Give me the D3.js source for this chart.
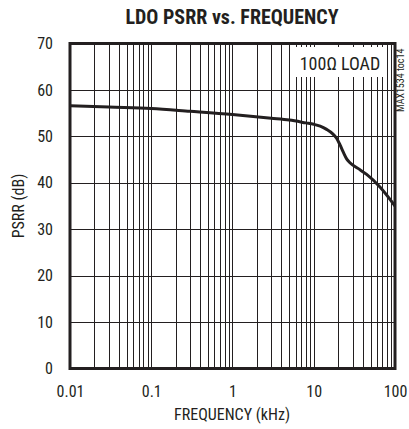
<!DOCTYPE html>
<html>
<head>
<meta charset="utf-8">
<script src="https://cdn.jsdelivr.net/npm/d3@7"></script>
<style>
  body { margin: 0; background: #fff; }
  svg { display: block; }
  text { font-family: "Liberation Sans Narrow", "Arial Narrow", "Roboto Condensed", "Liberation Sans", Arial, sans-serif; fill: #231f20; }
</style>
</head>
<body>
<svg id="chart" width="409" height="429"></svg>
<script>
// ---- data ----
const freqKHz = [0.01, 0.03, 0.1, 0.3, 1, 3, 5, 8, 10, 12, 14.4, 17, 19.1, 21, 23.1, 25.5, 27.9, 35, 44.8, 65.3, 100];
const psrrDB  = [56.6, 56.3, 56.0, 55.4, 54.7, 53.9, 53.5, 52.9, 52.6, 52.2, 51.5, 50.6, 49.6, 48.2, 46.6, 45.1, 44.3, 43.1, 41.8, 39.1, 35.0];
const xTickValues = [0.01, 0.1, 1, 10, 100];
const xTickLabels = ["0.01", "0.1", "1", "10", "100"];
const yTickValues = [0, 10, 20, 30, 40, 50, 60, 70];
const titleText = "LDO PSRR vs. FREQUENCY";
const xTitle = "FREQUENCY (kHz)";
const yTitle = "PSRR (dB)";
const legendText = "100\u03A9 LOAD";
const sideNote = "MAX1534 toc14";

// ---- layout ----
const L = 70, R = 395, T = 43.5, B = 368.5;
const ink = "#231f20";
const svg = d3.select("#chart");

const x = d3.scaleLog().domain([0.01, 100]).range([L, R]);
const y = d3.scaleLinear().domain([0, 70]).range([B, T]);

// minor + major vertical grid
const vgrid = [];
for (let d = -2; d < 2; d++) {
  for (let m = 1; m <= 9; m++) vgrid.push(m * Math.pow(10, d));
}
vgrid.push(100);

svg.append("g").selectAll("line").data(vgrid).join("line")
  .attr("x1", d => Math.round(x(d)) + 0.5).attr("x2", d => Math.round(x(d)) + 0.5)
  .attr("y1", T).attr("y2", B)
  .attr("stroke", ink).attr("stroke-width", 1);

svg.append("g").selectAll("line").data(yTickValues).join("line")
  .attr("x1", L).attr("x2", R)
  .attr("y1", d => Math.round(y(d)) + 0.5).attr("y2", d => Math.round(y(d)) + 0.5)
  .attr("stroke", ink).attr("stroke-width", 1);

// legend box (covers gridlines)
svg.append("rect").attr("x", 294).attr("y", 47).attr("width", 91).attr("height", 30).attr("fill", "#fff");
svg.append("text").attr("x", 340).attr("y", 69.5).attr("text-anchor", "middle")
  .attr("font-size", 18).text(legendText);

// curve
const line = d3.line().x((d, i) => x(freqKHz[i])).y(d => y(d)).curve(d3.curveMonotoneX);
svg.append("path").datum(psrrDB).attr("d", line)
  .attr("fill", "none").attr("stroke", ink).attr("stroke-width", 3).attr("stroke-linejoin", "round");

// frame
svg.append("rect").attr("x", L).attr("y", T).attr("width", R - L).attr("height", B - T)
  .attr("fill", "none").attr("stroke", ink).attr("stroke-width", 3);

// axes labels via d3 axis
const xAxis = d3.axisBottom(x).tickValues(xTickValues).tickFormat((d, i) => xTickLabels[i]).tickSize(0).tickPadding(17);
const gx = svg.append("g").attr("transform", `translate(0,${B})`).call(xAxis);
gx.select(".domain").remove();
gx.selectAll("text").attr("font-size", 16).attr("fill", ink).attr("font-family", null);

const yAxis = d3.axisLeft(y).tickValues(yTickValues).tickFormat(d3.format("d")).tickSize(0).tickPadding(17);
const gy = svg.append("g").attr("transform", `translate(${L},0)`).call(yAxis);
gy.select(".domain").remove();
gy.selectAll("text").attr("font-size", 16).attr("fill", ink).attr("font-family", null);

// titles
svg.append("text").attr("x", 232).attr("y", 24).attr("text-anchor", "middle")
  .attr("font-size", 20).attr("font-weight", "bold").text(titleText);
svg.append("text").attr("x", 232).attr("y", 420).attr("text-anchor", "middle")
  .attr("font-size", 16).text(xTitle);
svg.append("text").attr("transform", "translate(24,206) rotate(-90)").attr("text-anchor", "middle")
  .attr("font-size", 16).text(yTitle);
svg.append("text").attr("transform", "translate(404,112) rotate(-90)").attr("text-anchor", "start")
  .attr("font-size", 10).text(sideNote);
</script>
</body>
</html>
